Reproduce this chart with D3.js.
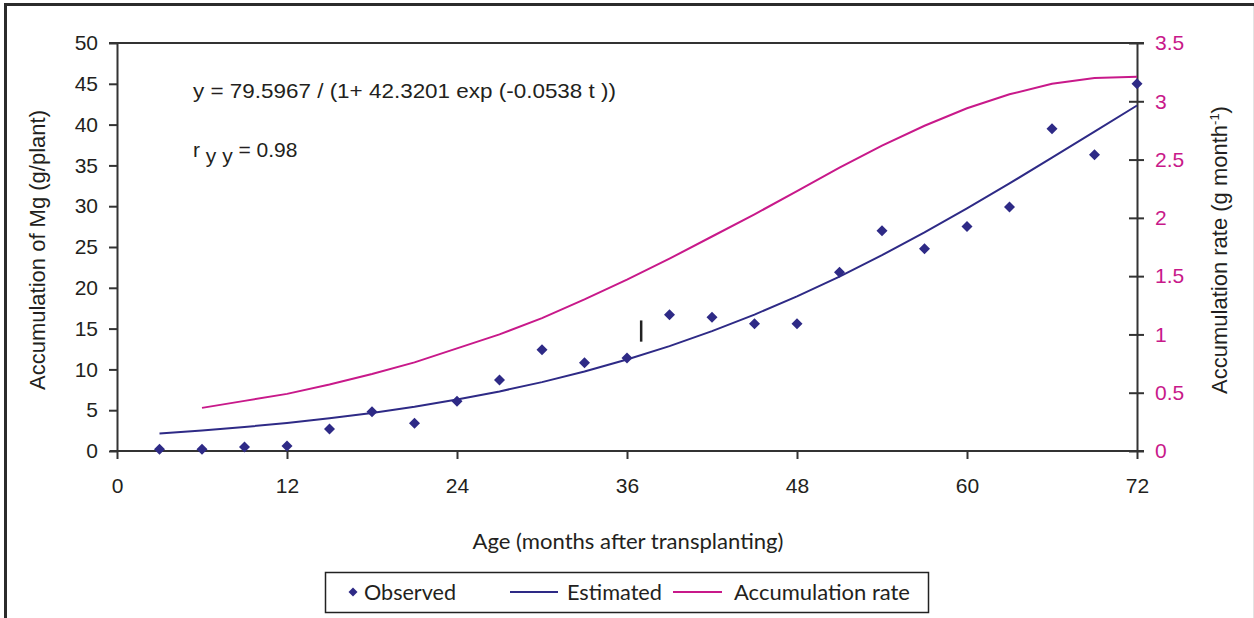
<!DOCTYPE html>
<html>
<head>
<meta charset="utf-8">
<script src="https://cdn.jsdelivr.net/npm/d3@7/dist/d3.min.js"></script>
<style>
  html, body { margin: 0; padding: 0; background: #fff; }
  svg { display: block; }
</style>
</head>
<body>
<svg id="chart" width="1254" height="618"></svg>
<script>
// Mg accumulation in the plant over time (months after transplanting)
const months = [3, 6, 9, 12, 15, 18, 21, 24, 27, 30, 33, 36, 39, 42, 45, 48, 51, 54, 57, 60, 63, 66, 69, 72];
const observed = [0.2, 0.2, 0.5, 0.6, 2.7, 4.8, 3.4, 6.1, 8.7, 12.4, 10.8, 11.4, 16.7, 16.4, 15.6, 15.6, 21.9, 27.0, 24.8, 27.5, 29.9, 39.5, 36.3, 45.0];
const estimated = [2.15, 2.52, 2.94, 3.43, 4.00, 4.66, 5.42, 6.30, 7.30, 8.44, 9.74, 11.21, 12.85, 14.69, 16.72, 18.95, 21.38, 24.00, 26.79, 29.73, 32.79, 35.94, 39.14, 42.34];
// accumulation rate is reported from month 6 onward
const rateMonths = [6, 9, 12, 15, 18, 21, 24, 27, 30, 33, 36, 39, 42, 45, 48, 51, 54, 57, 60, 63, 66, 69, 72];
const rate = [0.37, 0.43, 0.49, 0.57, 0.66, 0.76, 0.88, 1.00, 1.14, 1.30, 1.47, 1.65, 1.84, 2.03, 2.23, 2.43, 2.62, 2.79, 2.94, 3.06, 3.15, 3.20, 3.21];

const xTicks = [0, 12, 24, 36, 48, 60, 72];
const yTicks = [0, 5, 10, 15, 20, 25, 30, 35, 40, 45, 50];
const y2Ticks = [0, 0.5, 1, 1.5, 2, 2.5, 3, 3.5];
const y2Labels = ["0", "0.5", "1", "1.5", "2", "2.5", "3", "3.5"];

const equationText = "y = 79.5967 / (1+ 42.3201 exp (-0.0538 t ))";
const corrValue = "= 0.98";
const markerMonth = 37.0;            // small vertical marker near the curve
const markerRange = [13.4, 16.0];

const NAVY = "#2e2a86";
const MAGENTA = "#c8198a";
const INK = "#231f20";
const AXIS = "#333333";

const svg = d3.select("#chart");
const W = 1254, H = 618;
const plot = { left: 117, right: 1137, top: 43, bottom: 451 };

// outer frame (left and top rules, faint right edge)
svg.append("line").attr("x1", 5.5).attr("x2", 5.5).attr("y1", 3).attr("y2", H)
  .attr("stroke", "#2b2b2b").attr("stroke-width", 3);
svg.append("line").attr("x1", 4).attr("x2", W).attr("y1", 4.5).attr("y2", 4.5)
  .attr("stroke", "#2b2b2b").attr("stroke-width", 3);
svg.append("line").attr("x1", W - 0.5).attr("x2", W - 0.5).attr("y1", 6).attr("y2", H)
  .attr("stroke", "#e4e4e4").attr("stroke-width", 1);

const x = d3.scaleLinear().domain([0, 72]).range([plot.left, plot.right]);
const y = d3.scaleLinear().domain([0, 50]).range([plot.bottom, plot.top]);
const y2 = d3.scaleLinear().domain([0, 3.5]).range([plot.bottom, plot.top]);

const tickFont = "'Liberation Sans', Arial, sans-serif";
const humanist = "Lato, 'Noto Sans', sans-serif";
const FS = 21;

// top rule of the plot area
svg.append("line")
  .attr("x1", plot.left - 8).attr("x2", plot.right + 7)
  .attr("y1", plot.top).attr("y2", plot.top)
  .attr("stroke", AXIS).attr("stroke-width", 2);

// left axis
const gy = svg.append("g").attr("transform", `translate(${plot.left},0)`)
  .call(d3.axisLeft(y).tickValues(yTicks).tickSize(8).tickSizeOuter(0).tickPadding(11));
gy.select(".domain").attr("stroke", AXIS).attr("stroke-width", 2);
gy.selectAll(".tick line").attr("stroke", AXIS).attr("stroke-width", 2);
gy.selectAll(".tick text").attr("fill", INK).attr("font-family", tickFont).attr("font-size", FS);

// right axis (ticks cross the axis line)
const gy2 = svg.append("g").attr("transform", `translate(${plot.right},0)`)
  .call(d3.axisRight(y2).tickValues(y2Ticks).tickFormat((d, i) => y2Labels[i])
    .tickSize(7).tickSizeOuter(0).tickPadding(11));
gy2.select(".domain").attr("stroke", AXIS).attr("stroke-width", 2);
gy2.selectAll(".tick line").attr("stroke", AXIS).attr("stroke-width", 2).attr("x1", -8);
gy2.selectAll(".tick text").attr("fill", MAGENTA).attr("font-family", tickFont).attr("font-size", FS);

// bottom axis
const gx = svg.append("g").attr("transform", `translate(0,${plot.bottom})`)
  .call(d3.axisBottom(x).tickValues(xTicks).tickSize(8).tickSizeOuter(0).tickPadding(19));
gx.select(".domain").attr("stroke", AXIS).attr("stroke-width", 2)
  .attr("d", `M${plot.left - 7},0H${plot.right + 7}`);
gx.selectAll(".tick line").attr("stroke", AXIS).attr("stroke-width", 2);
gx.selectAll(".tick text").attr("fill", INK).attr("font-family", tickFont).attr("font-size", FS);

// axis titles
svg.append("text")
  .attr("transform", `translate(45,250) rotate(-90)`)
  .attr("text-anchor", "middle").attr("fill", INK)
  .attr("font-family", tickFont).attr("font-size", 22)
  .text("Accumulation of Mg (g/plant)");

const rt = svg.append("text")
  .attr("transform", `translate(1227,250) rotate(-90)`)
  .attr("text-anchor", "middle").attr("fill", INK)
  .attr("font-family", tickFont).attr("font-size", 22);
rt.append("tspan").text("Accumulation rate (g month");
rt.append("tspan").attr("font-size", 13).attr("dy", -8).text("-1");
rt.append("tspan").attr("dy", 8).text(")");

svg.append("text")
  .attr("x", 628).attr("y", 549)
  .attr("text-anchor", "middle").attr("fill", INK)
  .attr("font-family", humanist).attr("font-size", 22)
  .attr("textLength", 311).attr("lengthAdjust", "spacingAndGlyphs")
  .text("Age (months after transplanting)");

// estimated curve
const line = d3.line().x(d => x(d[0])).y(d => y(d[1]));
svg.append("path")
  .datum(months.map((m, i) => [m, estimated[i]]))
  .attr("d", line).attr("fill", "none")
  .attr("stroke", NAVY).attr("stroke-width", 2);

// accumulation rate on the secondary axis
const line2 = d3.line().x(d => x(d[0])).y(d => y2(d[1]));
svg.append("path")
  .datum(rateMonths.map((m, i) => [m, rate[i]]))
  .attr("d", line2).attr("fill", "none")
  .attr("stroke", MAGENTA).attr("stroke-width", 2);

// observed points as diamonds
const diamond = (cx, cy, r) => `M${cx},${cy - r}L${cx + r},${cy}L${cx},${cy + r}L${cx - r},${cy}Z`;
svg.append("g").selectAll("path")
  .data(months.map((m, i) => [m, observed[i]]))
  .join("path")
  .attr("d", d => diamond(x(d[0]), y(d[1]), 5.5))
  .attr("fill", NAVY);

// vertical marker
svg.append("line")
  .attr("x1", x(markerMonth)).attr("x2", x(markerMonth))
  .attr("y1", y(markerRange[0])).attr("y2", y(markerRange[1]))
  .attr("stroke", "#222").attr("stroke-width", 2.5);

// fitted equation and correlation
svg.append("text")
  .attr("x", 193).attr("y", 98)
  .attr("fill", INK).attr("font-family", tickFont).attr("font-size", FS)
  .attr("textLength", 423).attr("lengthAdjust", "spacingAndGlyphs")
  .text(equationText);

const rtext = svg.append("text")
  .attr("x", 193).attr("y", 157)
  .attr("fill", INK).attr("font-family", tickFont).attr("font-size", FS);
rtext.append("tspan").text("r");
rtext.append("tspan").attr("dy", 6).text(" y y");
rtext.append("tspan").attr("dy", -6).text(" " + corrValue);

// legend
const lg = svg.append("g");
lg.append("rect").attr("x", 325.5).attr("y", 572.5).attr("width", 603).attr("height", 40)
  .attr("fill", "#fff").attr("stroke", "#222").attr("stroke-width", 1.5);
lg.append("path").attr("d", diamond(353, 592, 4.5)).attr("fill", NAVY);
lg.append("line").attr("x1", 510).attr("x2", 558).attr("y1", 592).attr("y2", 592)
  .attr("stroke", NAVY).attr("stroke-width", 2);
lg.append("line").attr("x1", 673).attr("x2", 722).attr("y1", 592).attr("y2", 592)
  .attr("stroke", MAGENTA).attr("stroke-width", 2);
const legendText = [
  { label: "Observed", x: 364, w: 92 },
  { label: "Estimated", x: 567, w: 95 },
  { label: "Accumulation rate", x: 734, w: 176 }
];
lg.selectAll("text.leg").data(legendText).join("text")
  .attr("class", "leg")
  .attr("x", d => d.x).attr("y", 600)
  .attr("fill", INK).attr("font-family", humanist).attr("font-size", 21)
  .attr("textLength", d => d.w).attr("lengthAdjust", "spacingAndGlyphs")
  .text(d => d.label);
</script>
</body>
</html>
